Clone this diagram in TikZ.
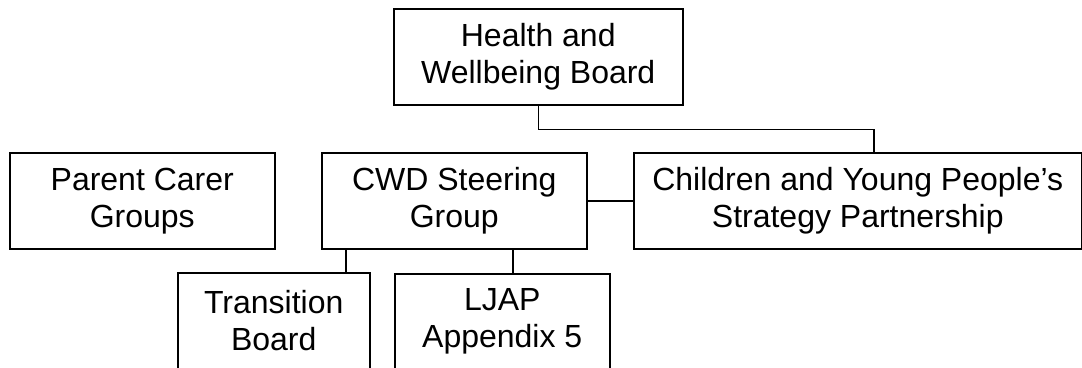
\documentclass[tikz,border=0pt]{standalone}
\usepackage{fontspec}
\setmainfont{Liberation Sans}
\begin{document}
\begin{tikzpicture}[x=1pt,y=-1pt,
  box/.style={draw=black, line width=1.5pt, align=center, inner sep=0pt,
    minimum height=96pt, anchor=north west,
    font=\fontsize{32}{37}\selectfont},
  link/.style={draw=black, line width=1.5pt}]
\useasboundingbox (0,0) rectangle (1082,367);
\clip (0,0) rectangle (1082,367);
\node[box, minimum width=289pt] (hwb) at (393,8) {Health and\\Wellbeing Board};
\node[box, minimum width=265pt] (pcg) at (9,152) {Parent Carer\\Groups};
\node[box, minimum width=265pt] (cwd) at (321,152) {CWD Steering\\Group};
\node[box, minimum width=448pt] (cyp) at (633,152) {Children and Young People’s\\Strategy Partnership};
\node[box, minimum width=192pt] (tb) at (177,272) {Transition\\Board};
\node[box, minimum width=215pt] (ljap) at (394,273) {LJAP\\Appendix 5};
\coordinate (cyptop) at (874,152);
\draw[link] (hwb.south) -- ++(0,24) -| (cyptop);
\draw[link] (cwd.east) -- (cyp.west);
\draw[link] ([xshift=25pt]cwd.south west) -- ([xshift=25pt]cwd.south west |- tb.north);
\draw[link] ([xshift=192pt]cwd.south west) -- ([xshift=192pt]cwd.south west |- ljap.north);
\end{tikzpicture}
\end{document}
